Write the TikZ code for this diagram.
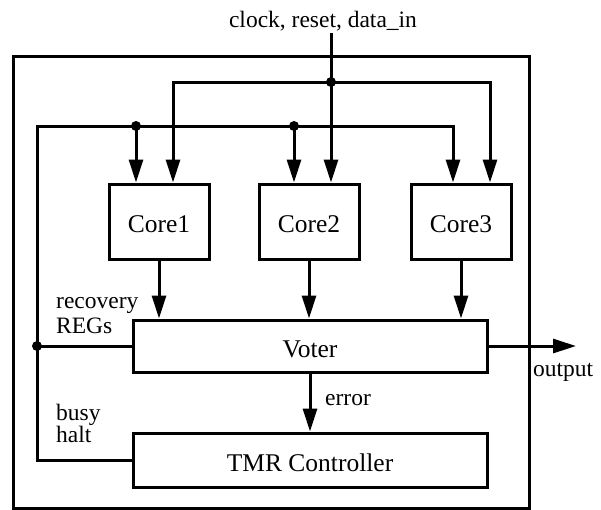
\documentclass[tikz,border=0pt]{standalone}
\usepackage{fontspec}
\setmainfont{Liberation Serif}
\usetikzlibrary{arrows.meta}
\begin{document}
\begin{tikzpicture}[x=1pt,y=-1pt,
  blk/.style={draw, line width=3pt, inner sep=0pt, text height=22pt, text depth=0pt, font=\fontsize{25.5}{27}\selectfont},
  lbl/.style={inner sep=0pt, font=\fontsize{23.5}{25}\selectfont},
  wire/.style={line width=3pt},
  arr/.style={wire, -{Triangle[length=23pt,width=14pt]}},
  dot/.style={circle, fill, inner sep=0pt, minimum size=10pt}]
\useasboundingbox (0,0) rectangle (601,509);
% outer frame
\node[draw, line width=2.6pt, minimum width=516pt, minimum height=452pt, anchor=north west, inner sep=0pt] (frame) at (12,55) {};
% blocks
\node[blk, minimum width=100pt, minimum height=75pt] (c1) at (159,221.5) {Core1};
\node[blk, minimum width=100pt, minimum height=75pt] (c2) at (309,221.5) {Core2};
\node[blk, minimum width=100pt, minimum height=75pt] (c3) at (461,221.5) {Core3};
\node[blk, minimum width=354pt, minimum height=52pt] (voter) at (310,346) {Voter};
\node[blk, minimum width=354pt, minimum height=54pt] (tmr) at (310,460) {TMR Controller};
% labels
\node[lbl, anchor=base] (inlbl) at (323,27) {clock, reset, data\_in};
\node[lbl, anchor=base west] (rec1) at (56,308) {recovery};
\node[lbl, anchor=base west] (rec2) at (56,333) {REGs};
\node[lbl, anchor=base west] (busy) at (56,420) {busy};
\node[lbl, anchor=base west] (halt) at (56,442) {halt};
\node[lbl, anchor=base west] (errl) at (325,405) {error};
\node[lbl, anchor=base west] (outl) at (533,376) {output};
% junctions
\coordinate (in) at (331,33);
\coordinate (jt) at (331,82);
\coordinate (j1) at (136,126);
\coordinate (j2) at (294,126);
\coordinate (jl) at (37,346);
\coordinate (out) at (576,347);
% input distribution
\draw[wire] (in) -- (jt);
\draw[arr] (jt) -- (jt |- c2.north);
\draw[arr] (jt) -| ([xshift=14pt]c1.north);
\draw[arr] (jt) -| ([xshift=29pt]c3.north);
% recovery bus
\draw[arr] (tmr.west) -| (37,126) -| ([xshift=-8pt]c3.north);
\draw[arr] (j1) -- (j1 |- c1.north);
\draw[arr] (j2) -- (j2 |- c2.north);
\draw[wire] (voter.west) -- (jl);
% cores to voter
\draw[arr] (c1.south) -- (c1.south |- voter.north);
\draw[arr] (c2.south) -- (c2.south |- voter.north);
\draw[arr] (c3.south) -- (c3.south |- voter.north);
% voter outputs
\draw[arr] (voter.south) -- (tmr.north);
\draw[arr] (voter.east) -- (voter.east -| out);
% dots
\node[dot] at (jt) {};
\node[dot] at (j1) {};
\node[dot] at (j2) {};
\node[dot] at (jl) {};
\end{tikzpicture}
\end{document}
